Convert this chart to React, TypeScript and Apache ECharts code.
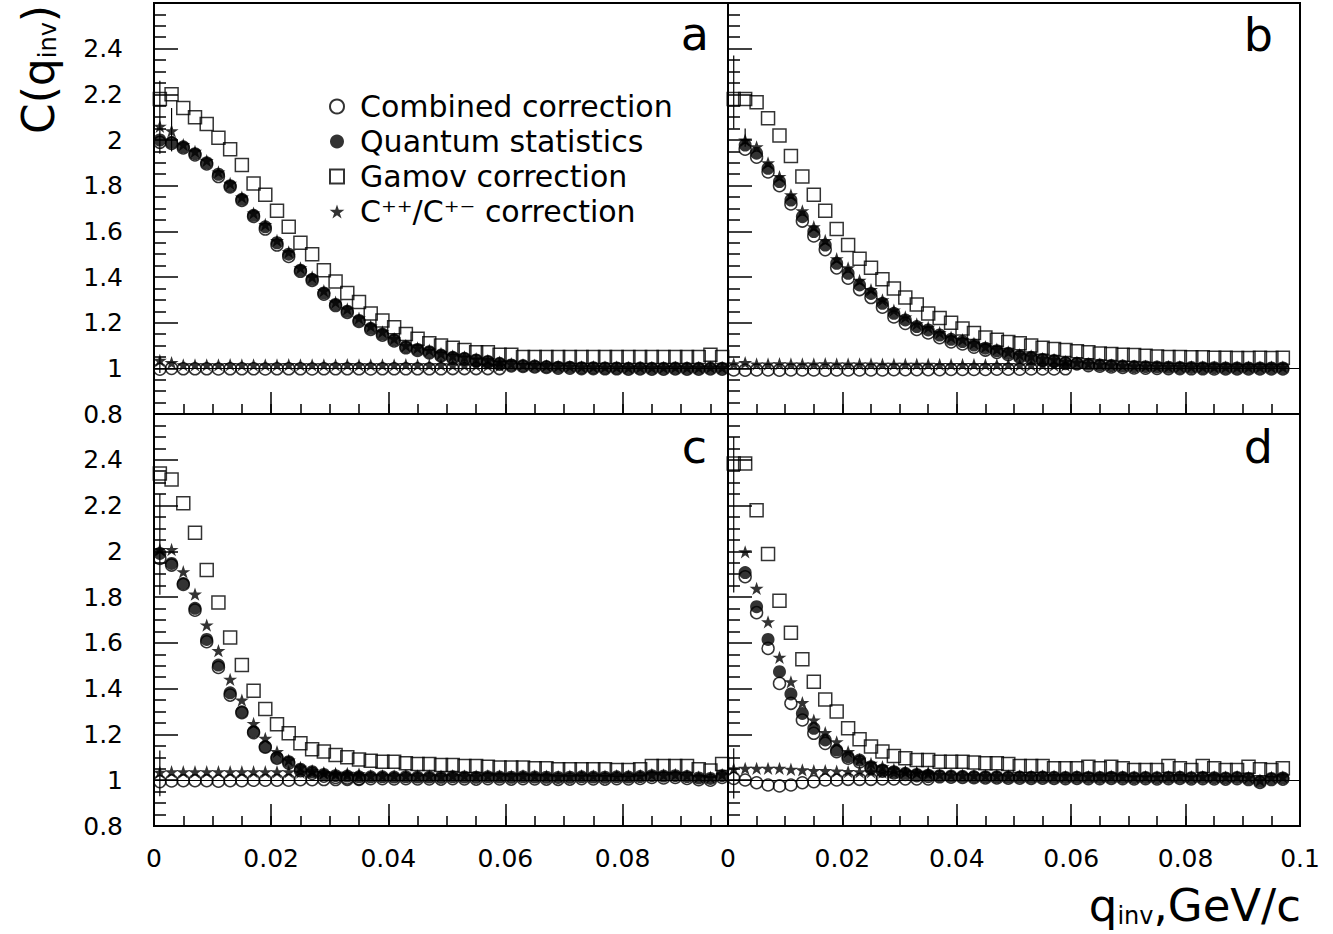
import { useEffect, useRef } from 'react';
import * as echarts from 'echarts';

// ---------- data ----------
const qBins = [0.001, 0.003, 0.005, 0.007, 0.009, 0.011, 0.013, 0.015, 0.017, 0.019, 0.021, 0.023, 0.025, 0.027, 0.029, 0.031, 0.033, 0.035, 0.037, 0.039, 0.041, 0.043, 0.045, 0.047, 0.049, 0.051, 0.053, 0.055, 0.057, 0.059, 0.061, 0.063, 0.065, 0.067, 0.069, 0.071, 0.073, 0.075, 0.077, 0.079, 0.081, 0.083, 0.085, 0.087, 0.089, 0.091, 0.093, 0.095, 0.097];

const seriesNames = ['Combined correction', 'Quantum statistics', 'Gamov correction', 'C⁺⁺/C⁺⁻ correction'];
const panelLetters = ['a', 'b', 'c', 'd'];
const xMaxLeft = 0.098;
const xMaxRight = 0.1;
const yMin = 0.8;
const yMax = 2.6;

// panel a
const gamovA = [2.18, 2.2, 2.14, 2.1, 2.07, 2.01, 1.96, 1.89, 1.81, 1.76, 1.69, 1.62, 1.55, 1.5, 1.43, 1.38, 1.33, 1.29, 1.24, 1.21, 1.18, 1.15, 1.13, 1.11, 1.1, 1.09, 1.08, 1.07, 1.07, 1.06, 1.06, 1.05, 1.05, 1.05, 1.05, 1.05, 1.05, 1.05, 1.05, 1.05, 1.05, 1.05, 1.05, 1.05, 1.05, 1.05, 1.05, 1.06, 1.05];
const quantumA = [2.0, 1.99, 1.97, 1.94, 1.9, 1.85, 1.8, 1.74, 1.67, 1.62, 1.55, 1.5, 1.43, 1.39, 1.33, 1.28, 1.25, 1.21, 1.175, 1.15, 1.125, 1.095, 1.083, 1.073, 1.058, 1.048, 1.044, 1.037, 1.03, 1.022, 1.015, 1.012, 1.01, 1.008, 1.005, 1.005, 1.003, 1.003, 1.002, 1.002, 1.0, 1.001, 1.0, 1.0, 1.001, 1.0, 1.0, 1.001, 1.0];
const ratioA = [2.06, 2.04, 1.98, 1.95, 1.91, 1.86, 1.81, 1.75, 1.68, 1.63, 1.56, 1.51, 1.44, 1.4, 1.34, 1.29, 1.26, 1.22, 1.185, 1.16, 1.13, 1.1, 1.09, 1.08, 1.065, 1.055, 1.05, 1.042, 1.035, 1.027, 1.02, 1.016, 1.014, 1.012, 1.01, 1.009, 1.007, 1.007, 1.006, 1.006, 1.004, 1.005, 1.004, 1.004, 1.005, 1.004, 1.004, 1.005, 1.004];
const combinedA = [1.99, 1.985, 1.965, 1.935, 1.895, 1.84, 1.795, 1.735, 1.665, 1.61, 1.54, 1.49, 1.425, 1.385, 1.325, 1.275, 1.245, 1.205, 1.17, 1.145, 1.12, 1.09, 1.078, 1.068, 1.054, 1.044, 1.04, 1.033, 1.026, 1.018, 1.011, 1.008, 1.006, 1.004, 1.001, 1.001, 0.999, 0.999, 0.998, 0.998, 0.996, 0.997, 0.996, 0.996, 0.997, 0.996, 0.996, 0.997, 0.996];
const combinedFlatA = [0.996, 1.0, 0.998, 0.998, 0.998, 0.997, 0.998, 0.998, 0.998, 0.997, 0.998, 0.998, 0.998, 0.997, 0.998, 0.998, 0.998, 0.998, 0.997, 0.998, 0.998, 0.998, 0.998, 0.998, 0.998, 0.999, 0.999, 0.999, 0.999, 0.999];
const ratioFlatA = [1.035, 1.025, 1.015, 1.015, 1.015, 1.015, 1.016, 1.015, 1.015, 1.015, 1.015, 1.016, 1.015, 1.015, 1.015, 1.015, 1.016, 1.015, 1.015, 1.015, 1.015, 1.016, 1.015, 1.015, 1.015, 1.014, 1.014, 1.013, 1.013, 1.012];
const errorsA = [[0.001, 1.94, 2.26], [0.003, 1.95, 2.14], [0.001, 0.98, 1.05]];

// panel b
const gamovB = [2.18, 2.18, 2.165, 2.095, 2.02, 1.93, 1.84, 1.76, 1.69, 1.61, 1.54, 1.48, 1.44, 1.39, 1.35, 1.31, 1.28, 1.24, 1.22, 1.2, 1.175, 1.155, 1.135, 1.125, 1.115, 1.11, 1.1, 1.09, 1.085, 1.08, 1.075, 1.07, 1.065, 1.063, 1.06, 1.058, 1.055, 1.052, 1.05, 1.05, 1.048, 1.048, 1.046, 1.046, 1.045, 1.045, 1.046, 1.045, 1.046];
const quantumB = [null, 1.978, 1.942, 1.876, 1.818, 1.737, 1.664, 1.599, 1.54, 1.46, 1.416, 1.365, 1.328, 1.285, 1.241, 1.212, 1.183, 1.168, 1.146, 1.127, 1.117, 1.102, 1.088, 1.077, 1.066, 1.054, 1.048, 1.039, 1.034, 1.025, 1.022, 1.018, 1.015, 1.012, 1.01, 1.008, 1.007, 1.006, 1.005, 1.004, 1.004, 1.003, 1.003, 1.002, 1.002, 1.002, 1.002, 1.002, 1.002];
const ratioB = [null, 2.0, 1.97, 1.9, 1.84, 1.76, 1.69, 1.62, 1.56, 1.48, 1.44, 1.385, 1.345, 1.3, 1.255, 1.225, 1.195, 1.18, 1.157, 1.137, 1.126, 1.11, 1.095, 1.084, 1.072, 1.06, 1.054, 1.044, 1.039, 1.03, 1.026, 1.021, 1.018, 1.015, 1.013, 1.011, 1.01, 1.009, 1.008, 1.008, 1.007, 1.007, 1.006, 1.006, 1.006, 1.006, 1.006, 1.006, 1.006];
const combinedB = [null, 1.96, 1.925, 1.86, 1.8, 1.72, 1.645, 1.58, 1.52, 1.44, 1.395, 1.345, 1.31, 1.268, 1.225, 1.197, 1.17, 1.155, 1.134, 1.116, 1.107, 1.093, 1.08, 1.07, 1.06, 1.049, 1.043, 1.035, 1.03, 1.022, 1.019, 1.012, 1.009, 1.006, 1.004, 1.002, 1.001, 1.0, 0.999, 0.999, 0.998, 0.998, 0.997, 0.997, 0.997, 0.997, 0.997, 0.997, 0.997];
const combinedFlatB = [0.993, 0.992, 0.993, 0.993, 0.992, 0.993, 0.993, 0.993, 0.992, 0.993, 0.993, 0.993, 0.993, 0.993, 0.994, 0.994, 0.994, 0.994, 0.994, 0.995, 0.995, 0.995, 0.995, 0.996, 0.996, 0.996, 0.997, 0.997, 0.997, 0.998];
const ratioFlatB = [1.02, 1.025, 1.019, 1.019, 1.02, 1.019, 1.019, 1.019, 1.02, 1.019, 1.019, 1.019, 1.019, 1.018, 1.018, 1.018, 1.018, 1.018, 1.017, 1.017, 1.017, 1.017, 1.016, 1.016, 1.016, 1.015, 1.015, 1.015, 1.014, 1.014];
const errorsB = [[0.003, 1.97, 2.05], [0.001, 2.05, 2.37]];

// panel c
const gamovC = [2.34, 2.314, 2.21, 2.081, 1.918, 1.776, 1.624, 1.503, 1.391, 1.311, 1.244, 1.205, 1.161, 1.135, 1.125, 1.11, 1.1, 1.091, 1.085, 1.081, 1.081, 1.074, 1.071, 1.071, 1.066, 1.066, 1.062, 1.062, 1.059, 1.056, 1.056, 1.056, 1.052, 1.052, 1.048, 1.048, 1.048, 1.048, 1.048, 1.045, 1.045, 1.048, 1.062, 1.062, 1.062, 1.062, 1.048, 1.042, 1.071];
const quantumC = [1.991, 1.947, 1.86, 1.751, 1.615, 1.503, 1.382, 1.299, 1.212, 1.147, 1.1, 1.081, 1.048, 1.037, 1.025, 1.02, 1.018, 1.015, 1.015, 1.015, 1.014, 1.015, 1.014, 1.014, 1.013, 1.015, 1.014, 1.013, 1.015, 1.014, 1.013, 1.015, 1.014, 1.013, 1.012, 1.013, 1.015, 1.014, 1.013, 1.015, 1.014, 1.016, 1.02, 1.018, 1.02, 1.016, 1.01, 1.008, 1.02];
const ratioC = [2.008, 2.008, 1.911, 1.813, 1.678, 1.566, 1.441, 1.35, 1.248, 1.183, 1.125, 1.088, 1.056, 1.042, 1.03, 1.025, 1.022, 1.02, 1.02, 1.02, 1.019, 1.02, 1.019, 1.019, 1.018, 1.02, 1.019, 1.018, 1.02, 1.019, 1.018, 1.02, 1.019, 1.018, 1.017, 1.018, 1.02, 1.019, 1.018, 1.02, 1.019, 1.021, 1.025, 1.023, 1.025, 1.021, 1.015, 1.013, 1.025];
const combinedC = [1.969, 1.94, 1.855, 1.743, 1.605, 1.493, 1.372, 1.295, 1.208, 1.144, 1.096, 1.075, 1.042, 1.03, 1.018, 1.012, 1.01, 1.007, 1.007, 1.007, 1.006, 1.007, 1.006, 1.006, 1.005, 1.007, 1.006, 1.005, 1.007, 1.006, 1.005, 1.007, 1.006, 1.005, 1.004, 1.005, 1.007, 1.006, 1.005, 1.007, 1.006, 1.008, 1.012, 1.01, 1.012, 1.008, 1.002, 1.0, 1.012];
const combinedFlatC = [0.994, 0.997, 0.998, 0.998, 0.998, 0.996, 0.998, 0.998, 1.0, 1.0, 1.0, 1.0, 1.002, 1.002, 1.003, 1.003, 1.004, 1.004];
const ratioFlatC = [1.035, 1.037, 1.037, 1.037, 1.037, 1.037, 1.037, 1.037, 1.037, 1.037, 1.037, 1.037, 1.035, 1.035, 1.033, 1.03, 1.03, 1.028];
const errorsC = [[0.001, 1.81, 2.25], [0.001, 0.93, 1.13]];

// panel d
const gamovD = [2.384, 2.384, 2.18, 1.988, 1.784, 1.644, 1.528, 1.43, 1.353, 1.3, 1.227, 1.179, 1.147, 1.125, 1.106, 1.096, 1.088, 1.088, 1.081, 1.081, 1.081, 1.077, 1.074, 1.074, 1.071, 1.062, 1.062, 1.062, 1.052, 1.052, 1.052, 1.059, 1.052, 1.059, 1.052, 1.045, 1.045, 1.045, 1.062, 1.052, 1.045, 1.062, 1.052, 1.045, 1.045, 1.059, 1.048, 1.045, 1.052];
const quantumD = [null, 1.907, 1.758, 1.615, 1.474, 1.377, 1.292, 1.227, 1.176, 1.132, 1.103, 1.088, 1.059, 1.045, 1.037, 1.03, 1.025, 1.022, 1.02, 1.018, 1.017, 1.016, 1.015, 1.015, 1.014, 1.014, 1.013, 1.014, 1.013, 1.012, 1.013, 1.012, 1.012, 1.013, 1.012, 1.011, 1.012, 1.011, 1.012, 1.013, 1.011, 1.012, 1.011, 1.01, 1.012, 1.008, 0.995, 1.008, 1.01];
const ratioD = [null, 1.998, 1.838, 1.692, 1.537, 1.43, 1.339, 1.263, 1.208, 1.168, 1.125, 1.091, 1.074, 1.059, 1.048, 1.038, 1.032, 1.028, 1.025, 1.023, 1.022, 1.021, 1.02, 1.02, 1.019, 1.019, 1.018, 1.019, 1.018, 1.017, 1.018, 1.017, 1.017, 1.018, 1.017, 1.016, 1.017, 1.016, 1.017, 1.018, 1.016, 1.017, 1.016, 1.015, 1.017, 1.013, 1.0, 1.013, 1.015];
const combinedD = [null, 1.889, 1.732, 1.576, 1.423, 1.336, 1.263, 1.205, 1.161, 1.125, 1.096, 1.08, 1.052, 1.04, 1.032, 1.025, 1.02, 1.017, 1.015, 1.013, 1.012, 1.011, 1.01, 1.01, 1.009, 1.009, 1.008, 1.009, 1.008, 1.007, 1.008, 1.007, 1.007, 1.008, 1.007, 1.006, 1.007, 1.006, 1.007, 1.008, 1.006, 1.007, 1.006, 1.005, 1.007, 1.003, 0.99, 1.003, 1.005];
const combinedFlatD = [1.008, 1.001, 0.989, 0.979, 0.975, 0.979, 0.989, 0.994, 1.001, 1.001, 1.004, 1.004, 1.004, 1.006, 1.006, 1.006, 1.006, 1.006];
const ratioFlatD = [1.05, 1.052, 1.052, 1.052, 1.052, 1.048, 1.045, 1.042, 1.042, 1.04, 1.038, 1.037, 1.037, 1.035, 1.035, 1.035, 1.035, 1.035];
const errorsD = [[0.001, 1.82, 2.5], [0.001, 0.92, 1.14]];

// ---------- styling ----------
const FONT = 'DejaVu Sans';
const STAR = 'path://M50,0L61.8,35.5L99,35.5L68.8,57.4L80.4,93L50,71L19.6,93L31.2,57.4L1,35.5L38.2,35.5Z';
const SQUARE = 'path://M0,0L10,0L10,10L0,10Z';

const toPoints = (vals: (number | null)[]) =>
  vals.map((v, i) => (v == null ? null : [qBins[i], v])).filter((p) => p !== null) as number[][];

const panels = [
  { combined: combinedA, combinedFlat: combinedFlatA, quantum: quantumA, gamov: gamovA, ratio: ratioA, ratioFlat: ratioFlatA, errors: errorsA, xMax: xMaxLeft, left: 154, top: 3, width: 574, height: 411, xLabels: false, yLabels: true },
  { combined: combinedB, combinedFlat: combinedFlatB, quantum: quantumB, gamov: gamovB, ratio: ratioB, ratioFlat: ratioFlatB, errors: errorsB, xMax: xMaxRight, left: 728, top: 3, width: 572, height: 411, xLabels: false, yLabels: false },
  { combined: combinedC, combinedFlat: combinedFlatC, quantum: quantumC, gamov: gamovC, ratio: ratioC, ratioFlat: ratioFlatC, errors: errorsC, xMax: xMaxLeft, left: 154, top: 414, width: 574, height: 412, xLabels: true, yLabels: true },
  { combined: combinedD, combinedFlat: combinedFlatD, quantum: quantumD, gamov: gamovD, ratio: ratioD, ratioFlat: ratioFlatD, errors: errorsD, xMax: xMaxRight, left: 728, top: 414, width: 572, height: 412, xLabels: true, yLabels: false },
];

const letterPos = [
  { x: 709, y: 34 },
  { x: 1273, y: 35 },
  { x: 707, y: 447 },
  { x: 1273, y: 447 },
];

function buildOption() {
  const black = '#000';
  const grid: any[] = [];
  const xAxis: any[] = [];
  const yAxis: any[] = [];
  const series: any[] = [];

  panels.forEach((p, i) => {
    grid.push({ left: p.left, top: p.top, width: p.width, height: p.height, show: true, borderColor: black, borderWidth: 2, backgroundColor: 'transparent' });
    xAxis.push({
      gridIndex: i, type: 'value', min: 0, max: p.xMax, interval: 0.02, position: 'bottom',
      axisLine: { show: true, onZero: false, lineStyle: { color: black, width: 2 } },
      axisTick: { show: true, inside: true, length: 22, lineStyle: { color: black, width: 1.5 } },
      axisLabel: { show: p.xLabels, showMaxLabel: p.xMax === xMaxRight, showMinLabel: true, margin: 20, color: black, fontSize: 25, fontFamily: FONT },
      splitLine: { show: false },
    });
    yAxis.push({
      gridIndex: i, type: 'value', min: yMin, max: yMax, interval: 0.2,
      axisLine: { show: true, onZero: false, lineStyle: { color: black, width: 2 } },
      axisTick: { show: true, inside: true, length: 24, lineStyle: { color: black, width: 1.5 } },
      minorTick: { show: true, splitNumber: 4, length: 12, lineStyle: { color: black, width: 1.5 } },
      axisLabel: { show: p.yLabels, showMaxLabel: false, showMinLabel: true, margin: 31, color: black, fontSize: 25, fontFamily: FONT },
      splitLine: { show: false },
      minorSplitLine: { show: false },
    });
  });
  // minor x ticks (every 0.005)
  panels.forEach((p, i) => {
    xAxis.push({
      gridIndex: i, type: 'value', min: 0, max: p.xMax, interval: 0.005, position: 'bottom',
      axisLine: { show: false },
      axisTick: { show: true, inside: true, length: 10, lineStyle: { color: black, width: 1.5 } },
      axisLabel: { show: false },
      splitLine: { show: false },
    });
  });

  const openStyle = { color: 'rgba(0,0,0,0)', borderColor: black, borderWidth: 1.5 };
  const filledStyle = { color: black };

  panels.forEach((p, i) => {
    const common = { type: 'scatter', xAxisIndex: i, yAxisIndex: i, emphasis: { disabled: true }, silent: true };
    series.push({ ...common, name: seriesNames[2], data: toPoints(p.gamov), symbol: 'rect', symbolSize: 13, itemStyle: openStyle, z: 2 });
    series.push({ ...common, name: seriesNames[0], data: toPoints(p.combined), symbol: 'circle', symbolSize: 12, itemStyle: openStyle, z: 3 });
    series.push({ ...common, name: seriesNames[0], data: toPoints(p.combinedFlat), symbol: 'circle', symbolSize: 12, itemStyle: openStyle, z: 3 });
    series.push({ ...common, name: seriesNames[3], data: toPoints(p.ratio), symbol: STAR, symbolKeepAspect: true, symbolSize: 14, itemStyle: filledStyle, z: 4 });
    series.push({ ...common, name: seriesNames[3], data: toPoints(p.ratioFlat), symbol: STAR, symbolKeepAspect: true, symbolSize: 14, itemStyle: filledStyle, z: 4 });
    series.push({
      ...common, name: seriesNames[1], data: toPoints(p.quantum), symbol: 'circle', symbolSize: 13, itemStyle: filledStyle, z: 5,
      markLine: { silent: true, symbol: ['none', 'none'], label: { show: false }, lineStyle: { color: black, width: 1, type: 'solid' }, data: [{ yAxis: 1 }] },
    });
    series.push({
      type: 'custom', xAxisIndex: i, yAxisIndex: i, silent: true, z: 1,
      data: p.errors,
      encode: { x: 0, y: [1, 2] },
      renderItem: (_params: any, api: any) => {
        const a = api.coord([api.value(0), api.value(1)]);
        const b = api.coord([api.value(0), api.value(2)]);
        return { type: 'line', shape: { x1: a[0], y1: a[1], x2: b[0], y2: b[1] }, style: { stroke: black, lineWidth: 1.2 } };
      },
    });
  });

  const graphic: any[] = [];
  panelLetters.forEach((l, i) => {
    graphic.push({ type: 'text', x: letterPos[i].x, y: letterPos[i].y, style: { text: l, fill: black, font: `46px "${FONT}"`, align: 'right', verticalAlign: 'middle' } });
  });
  graphic.push({
    type: 'text', x: 38, y: 5, rotation: Math.PI / 2,
    style: {
      text: '{m|C(q}{s|inv}{m|)}', align: 'right', verticalAlign: 'middle', fill: black,
      rich: {
        m: { fontSize: 44, fontFamily: FONT, fill: black },
        s: { fontSize: 24, fontFamily: FONT, fill: black, verticalAlign: 'bottom' },
      },
    },
  });
  graphic.push({
    type: 'text', x: 1301, y: 905,
    style: {
      text: '{m|q}{s|inv}{m|,GeV/c}', align: 'right', verticalAlign: 'middle', fill: black,
      rich: {
        m: { fontSize: 45, fontFamily: FONT, fill: black },
        s: { fontSize: 24, fontFamily: FONT, fill: black, verticalAlign: 'bottom' },
      },
    },
  });

  return {
    animation: false,
    backgroundColor: '#fff',
    grid,
    xAxis,
    yAxis,
    series,
    graphic,
    legend: {
      show: true, left: 329, top: 89, orient: 'vertical', itemGap: 0, itemWidth: 36, itemHeight: 14, padding: 0,
      selectedMode: false,
      textStyle: { fontSize: 30, fontFamily: FONT, color: black, lineHeight: 35 },
      data: [
        { name: seriesNames[0], icon: 'circle' },
        { name: seriesNames[1], icon: 'circle' },
        { name: seriesNames[2], icon: SQUARE },
        { name: seriesNames[3], icon: STAR },
      ],
    },
  };
}

export default function App() {
  const ref = useRef<HTMLDivElement>(null);
  useEffect(() => {
    if (!ref.current) return;
    const chart = echarts.init(ref.current, null, { renderer: 'svg' });
    chart.setOption(buildOption() as any);
    return () => chart.dispose();
  }, []);
  return <div ref={ref} style={{ position: 'absolute', left: 0, top: 0, width: 1333, height: 934, background: '#fff' }} />;
}
